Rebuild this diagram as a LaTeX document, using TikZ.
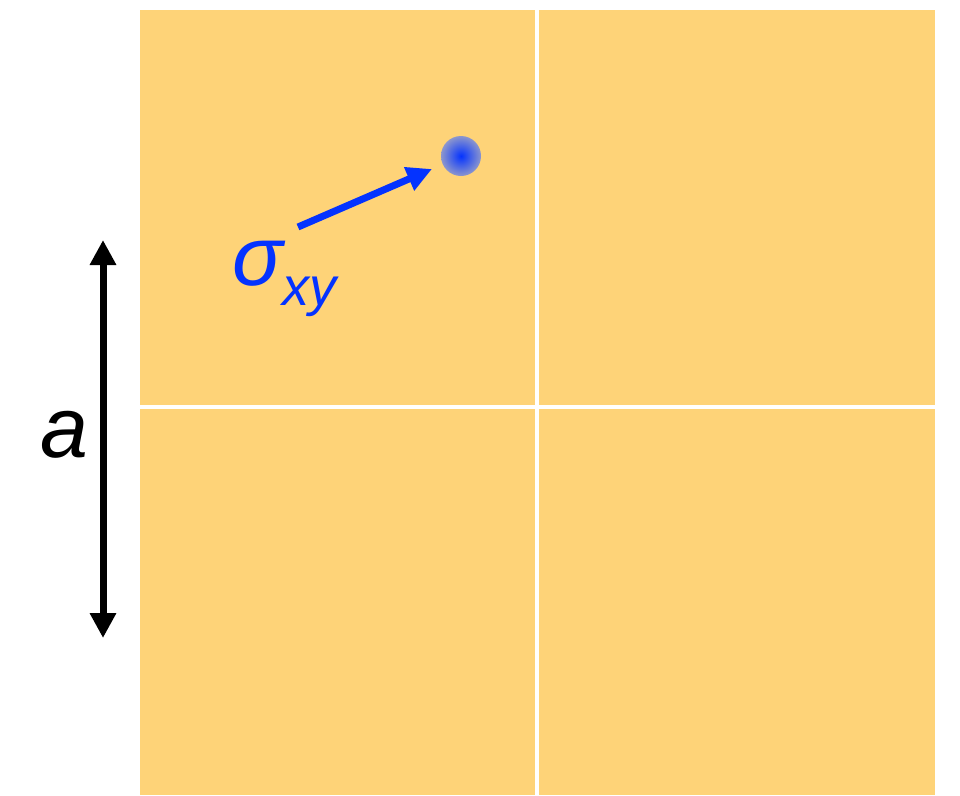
\documentclass[tikz,border=0pt]{standalone}
\usepackage{fontspec}
\setmainfont{Liberation Sans}
\usetikzlibrary{arrows.meta}
\definecolor{tile}{RGB}{254,211,120}
\definecolor{myblue}{RGB}{4,51,255}
\definecolor{dotedge}{RGB}{140,150,205}
\begin{document}
\begin{tikzpicture}[x=1pt,y=-1pt,
  tilebox/.style={fill=tile,draw=none},
  bluearrow/.style={draw=myblue,line width=7pt,-{Triangle[length=25pt,width=24pt]}},
  blackarrow/.style={draw=black,line width=7pt,{Triangle[length=25pt,width=25pt]}-{Triangle[length=25pt,width=25pt]}}]
\useasboundingbox (0,0) rectangle (960,795);
% tiles
\fill[tilebox] (140,10) rectangle (535,405);
\fill[tilebox] (539,10) rectangle (935,405);
\fill[tilebox] (140,409) rectangle (535,795);
\fill[tilebox] (539,409) rectangle (935,795);
% particle
\shade[inner color=myblue,outer color=dotedge] (461,156) circle (20);
\coordinate (bstart) at (298,227);
\coordinate (bend) at (432,169);
\draw[bluearrow] (bstart) -- (bend);
\node[anchor=base west,inner sep=0,text=myblue,font=\fontsize{84}{84}\selectfont\itshape] (sig) at (232,285) {σ\raisebox{-20pt}{\fontsize{54}{54}\selectfont xy}};
% dimension arrow
\coordinate (atop) at (103,240);
\coordinate (abot) at (103,638);
\draw[blackarrow] (atop) -- (abot);
\node[anchor=base,inner sep=0,font=\fontsize{86}{86}\selectfont\itshape] (alab) at (64,457) {a};
\end{tikzpicture}
\end{document}
